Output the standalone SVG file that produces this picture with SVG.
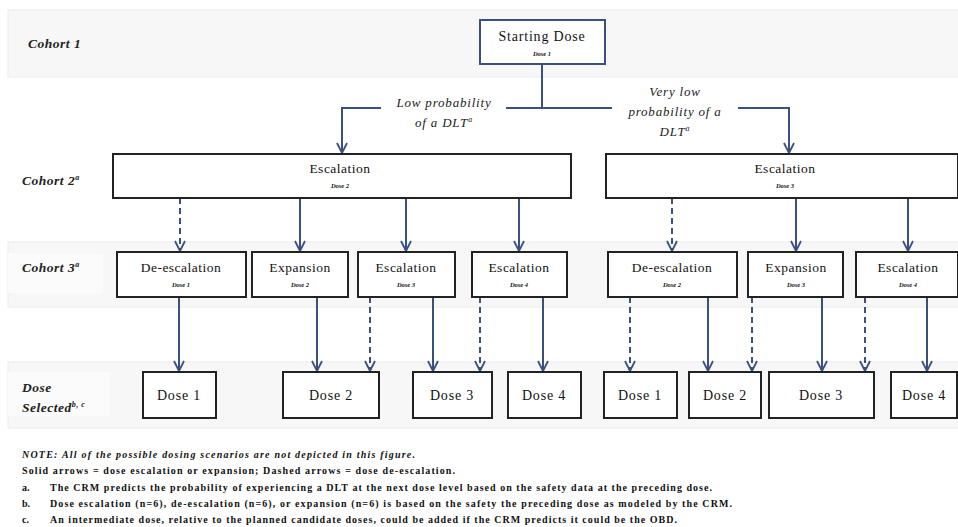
<svg xmlns="http://www.w3.org/2000/svg" width="958" height="527" viewBox="0 0 958 527">
<style>
.band{fill:#f7f7f7;stroke:#ebebeb;stroke-width:1}
.lblbg{fill:#fbfbfb}
.lbl{font-family:"Liberation Serif","Times New Roman",serif;font-size:13.5px;font-weight:bold;font-style:italic;fill:#222;letter-spacing:0.5px}
.box{fill:#fff;stroke:#222;stroke-width:2}
.boxb{fill:#fff;stroke:#3a5080;stroke-width:2}
.t{font-family:"Liberation Serif","Times New Roman",serif;font-size:13.5px;fill:#111;text-anchor:middle;letter-spacing:0.5px}
.d{font-size:14px;letter-spacing:0.8px}
.s{font-family:"Liberation Serif","Times New Roman",serif;font-size:6.5px;font-weight:bold;font-style:italic;fill:#111;text-anchor:middle}
.br{font-family:"Liberation Serif","Times New Roman",serif;font-size:13px;font-style:italic;fill:#222;text-anchor:middle;letter-spacing:0.8px}
.ln{stroke:#3a5080;stroke-width:2;fill:none}
.da{stroke-dasharray:6,4}
.n{font-family:"Liberation Serif","Times New Roman",serif;font-size:10px;fill:#111}
</style>
<defs>
<marker id="arr" viewBox="0 0 12 12" refX="11" refY="6" markerWidth="12" markerHeight="12" orient="auto" markerUnits="userSpaceOnUse">
<path d="M1,1 L11,6 L1,11" fill="none" stroke="#3a5080" stroke-width="1.8"/>
</marker>
</defs>

<g id="bands">
<rect class="band" x="8" y="10" width="955" height="67"/>
<rect class="band" x="8" y="242" width="955" height="65"/>
<rect class="lblbg" x="8" y="253" width="95" height="40"/>
<rect class="band" x="8" y="362" width="955" height="66"/>
<rect class="lblbg" x="8" y="372" width="102" height="44"/>
</g>

<g id="row-labels">
<text class="lbl" x="28" y="48">Cohort 1</text>
<text class="lbl" x="22" y="185">Cohort 2<tspan font-size="8" dy="-5">a</tspan></text>
<text class="lbl" x="22" y="272">Cohort 3<tspan font-size="8" dy="-5">a</tspan></text>
<text class="lbl" x="22" y="392">Dose</text>
<text class="lbl" x="22" y="412">Selected<tspan font-size="8" dy="-5">b, c</tspan></text>
</g>

<g id="connectors">
<path class="ln" d="M542,64 V108"/>
<path class="ln" d="M381,108 H342 V153" marker-end="url(#arr)"/>
<path class="ln" d="M506,108 H612"/>
<path class="ln" d="M738,108 H789 V153" marker-end="url(#arr)"/>

<path class="ln da" d="M180,198 V251" marker-end="url(#arr)"/>
<path class="ln" d="M300,198 V251" marker-end="url(#arr)"/>
<path class="ln" d="M406,198 V251" marker-end="url(#arr)"/>
<path class="ln" d="M519,198 V251" marker-end="url(#arr)"/>
<path class="ln da" d="M672,198 V251" marker-end="url(#arr)"/>
<path class="ln" d="M796,198 V251" marker-end="url(#arr)"/>
<path class="ln" d="M908,198 V251" marker-end="url(#arr)"/>

<path class="ln" d="M179,297 V371" marker-end="url(#arr)"/>
<path class="ln" d="M317,297 V371" marker-end="url(#arr)"/>
<path class="ln da" d="M370,297 V371" marker-end="url(#arr)"/>
<path class="ln" d="M433,297 V371" marker-end="url(#arr)"/>
<path class="ln da" d="M480,297 V371" marker-end="url(#arr)"/>
<path class="ln" d="M543,297 V371" marker-end="url(#arr)"/>
<path class="ln da" d="M630,297 V371" marker-end="url(#arr)"/>
<path class="ln" d="M708,297 V371" marker-end="url(#arr)"/>
<path class="ln da" d="M752,297 V371" marker-end="url(#arr)"/>
<path class="ln" d="M822,297 V371" marker-end="url(#arr)"/>
<path class="ln da" d="M865,297 V371" marker-end="url(#arr)"/>
<path class="ln" d="M927,297 V371" marker-end="url(#arr)"/>
</g>

<g id="branch-labels">
<text class="br" x="444" y="107">Low probability</text>
<text class="br" x="444" y="127">of a DLT<tspan font-size="8" dy="-5">a</tspan></text>
<text class="br" x="675" y="96">Very low</text>
<text class="br" x="675" y="116">probability of a</text>
<text class="br" x="675" y="136">DLT<tspan font-size="8" dy="-5">a</tspan></text>
</g>

<g id="start">
<rect class="boxb" x="480" y="20" width="125" height="44"/>
<text class="t d" x="542" y="41">Starting Dose</text>
<text class="s" x="542" y="56">Dose 1</text>
</g>

<g id="c2-left">
<rect class="box" x="113" y="154" width="458" height="44"/>
<text class="t" x="340" y="173">Escalation</text>
<text class="s" x="340" y="188">Dose 2</text>
</g>
<g id="c2-right">
<rect class="box" x="606" y="154" width="352" height="44"/>
<text class="t" x="785" y="173">Escalation</text>
<text class="s" x="785" y="188">Dose 3</text>
</g>

<g id="c3-1">
<rect class="box" x="117" y="252" width="129" height="45"/>
<text class="t" x="181" y="272">De-escalation</text>
<text class="s" x="181" y="287">Dose 1</text>
</g>
<g id="c3-2">
<rect class="box" x="252" y="252" width="96" height="45"/>
<text class="t" x="300" y="272">Expansion</text>
<text class="s" x="300" y="287">Dose 2</text>
</g>
<g id="c3-3">
<rect class="box" x="358" y="252" width="97" height="45"/>
<text class="t" x="406" y="272">Escalation</text>
<text class="s" x="406" y="287">Dose 3</text>
</g>
<g id="c3-4">
<rect class="box" x="472" y="252" width="95" height="45"/>
<text class="t" x="519" y="272">Escalation</text>
<text class="s" x="519" y="287">Dose 4</text>
</g>
<g id="c3-5">
<rect class="box" x="608" y="252" width="129" height="45"/>
<text class="t" x="672" y="272">De-escalation</text>
<text class="s" x="672" y="287">Dose 2</text>
</g>
<g id="c3-6">
<rect class="box" x="748" y="252" width="95" height="45"/>
<text class="t" x="796" y="272">Expansion</text>
<text class="s" x="796" y="287">Dose 3</text>
</g>
<g id="c3-7">
<rect class="box" x="856" y="252" width="102" height="45"/>
<text class="t" x="908" y="272">Escalation</text>
<text class="s" x="908" y="287">Dose 4</text>
</g>

<g id="d-1"><rect class="box" x="143" y="372" width="73" height="46"/><text class="t d" x="179" y="400">Dose 1</text></g>
<g id="d-2"><rect class="box" x="283" y="372" width="96" height="46"/><text class="t d" x="331" y="400">Dose 2</text></g>
<g id="d-3"><rect class="box" x="413" y="372" width="79" height="46"/><text class="t d" x="452" y="400">Dose 3</text></g>
<g id="d-4"><rect class="box" x="508" y="372" width="73" height="46"/><text class="t d" x="544" y="400">Dose 4</text></g>
<g id="d-5"><rect class="box" x="604" y="372" width="73" height="46"/><text class="t d" x="640" y="400">Dose 1</text></g>
<g id="d-6"><rect class="box" x="689" y="372" width="72" height="46"/><text class="t d" x="725" y="400">Dose 2</text></g>
<g id="d-7"><rect class="box" x="769" y="372" width="105" height="46"/><text class="t d" x="821" y="400">Dose 3</text></g>
<g id="d-8"><rect class="box" x="891" y="372" width="66" height="46"/><text class="t d" x="924" y="400">Dose 4</text></g>

<g id="notes">
<text class="n" x="22" y="458" font-style="italic" font-weight="bold" textLength="393" lengthAdjust="spacing">NOTE: All of the possible dosing scenarios are not depicted in this figure.</text>
<text class="n" x="22" y="474" font-weight="bold" textLength="433" lengthAdjust="spacing">Solid arrows = dose escalation or expansion; Dashed arrows = dose de-escalation.</text>
<text class="n" x="22" y="491" font-weight="bold">a.</text>
<text class="n" x="50" y="491" font-weight="bold" textLength="662" lengthAdjust="spacing">The CRM predicts the probability of experiencing a DLT at the next dose level based on the safety data at the preceding dose.</text>
<text class="n" x="22" y="507" font-weight="bold">b.</text>
<text class="n" x="50" y="507" font-weight="bold" textLength="682" lengthAdjust="spacing">Dose escalation (n=6), de-escalation (n=6), or expansion (n=6) is based on the safety the preceding dose as modeled by the CRM.</text>
<text class="n" x="22" y="523" font-weight="bold">c.</text>
<text class="n" x="50" y="523" font-weight="bold" textLength="627" lengthAdjust="spacing">An intermediate dose, relative to the planned candidate doses, could be added if the CRM predicts it could be the OBD.</text>
</g>
</svg>
